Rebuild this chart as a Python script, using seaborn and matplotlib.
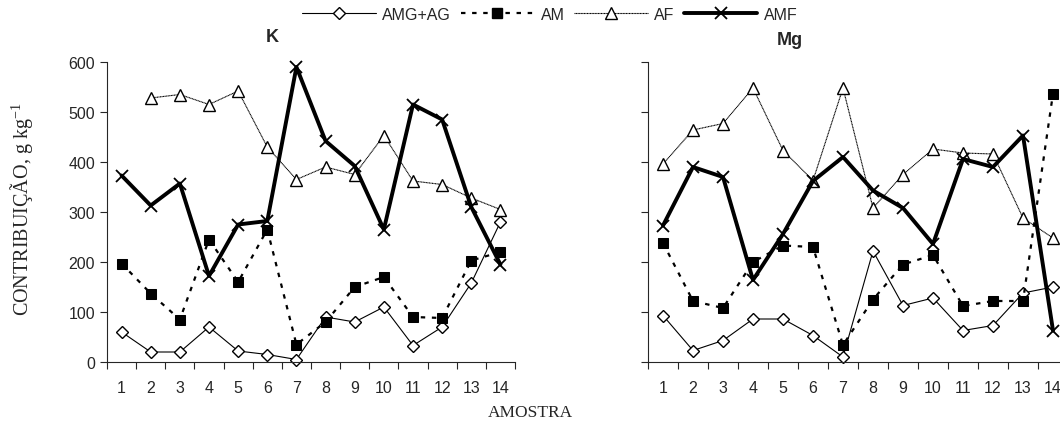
import numpy as np
import pandas as pd
import seaborn as sns
import matplotlib.pyplot as plt
from matplotlib.lines import Line2D

sns.set_style("ticks")
plt.rcParams['font.family'] = ['Liberation Sans', 'DejaVu Sans']
plt.rcParams['mathtext.fontset'] = 'custom'
plt.rcParams['mathtext.rm'] = 'Liberation Serif'
plt.rcParams['mathtext.it'] = 'Liberation Serif:italic'

# dados
amostra = list(range(1, 15))

k_amg_ag = [60, 20, 20, 70, 22, 15, 5, 90, 80, 110, 33, 70, 158, 280]
k_am = [197, 137, 85, 245, 160, 265, 35, 80, 150, 170, 90, 88, 203, 220]
k_af = [np.nan, 528, 535, 515, 542, 430, 365, 390, 375, 453, 362, 355, 328, 305]
k_amf = [373, 313, 357, 172, 275, 282, 590, 442, 392, 265, 515, 485, 310, 195]

mg_amg_ag = [93, 23, 43, 86, 86, 53, 10, 222, 113, 128, 63, 73, 138, 150]
mg_am = [238, 122, 108, 200, 233, 230, 34, 125, 195, 214, 112, 122, 122, 537]
mg_af = [396, 464, 477, 548, 423, 363, 548, 308, 375, 426, 418, 416, 288, 248]
mg_amf = [273, 390, 370, 164, 256, 362, 410, 343, 308, 236, 406, 390, 453, 63]

series = ['AMG+AG', 'AM', 'AF', 'AMF']
estilos = {
    'AMG+AG': dict(marker='D', markersize=6.5, markerfacecolor='white', markeredgecolor='black',
                   markeredgewidth=1.0, linewidth=0.8, linestyle='-'),
    'AM': dict(marker='s', markersize=7, markerfacecolor='black', markeredgecolor='black',
               linewidth=1.6, linestyle=(0, (2, 3))),
    'AF': dict(marker='^', markersize=9, markerfacecolor='white', markeredgecolor='black',
               markeredgewidth=1.0, linewidth=0.8, linestyle=(0, (1, 0.4))),
    'AMF': dict(marker='x', markersize=9, markeredgecolor='black', markeredgewidth=1.3,
                linewidth=2.8, linestyle='-'),
}

fig = plt.figure(figsize=(10.6, 4.27), dpi=100)
ax1 = fig.add_axes([107 / 1060, 64 / 427, 408 / 1060, 300 / 427])
ax2 = fig.add_axes([648 / 1060, 64 / 427, 420 / 1060, 300 / 427])

paineis = [
    (ax1, 'K', [k_amg_ag, k_am, k_af, k_amf]),
    (ax2, 'Mg', [mg_amg_ag, mg_am, mg_af, mg_amf]),
]

for ax, nome, valores in paineis:
    for s, v in zip(series, valores):
        df = pd.DataFrame({'amostra': amostra, 'valor': v}).dropna()
        sns.lineplot(data=df, x='amostra', y='valor', ax=ax, color='black',
                     label=s, clip_on=False, **estilos[s])
    ax.set_xlim(0.5, 14.5)
    ax.set_ylim(0, 600)
    ax.set_xticks(amostra)
    ax.set_xticks(np.arange(0.5, 15, 1), minor=True)
    ax.tick_params(axis='x', which='major', length=0, labelsize=11.5, pad=13)
    ax.tick_params(axis='x', which='minor', length=5, width=0.8, direction='out')
    ax.set_yticks(range(0, 601, 100))
    ax.tick_params(axis='y', length=5, width=0.8, direction='out', labelsize=11.5)
    ax.set_xlabel('')
    ax.set_ylabel('')
    for sp in ['top', 'right']:
        ax.spines[sp].set_visible(False)
    for sp in ['left', 'bottom']:
        ax.spines[sp].set_linewidth(0.8)
    if ax.get_legend() is not None:
        ax.get_legend().remove()

ax2.set_yticklabels([])

ax1.text(0.404, 1.055, 'K', transform=ax1.transAxes, fontsize=13, fontweight='bold',
         ha='center', va='bottom')
ax2.text(0.338, 1.045, 'Mg', transform=ax2.transAxes, fontsize=13, fontweight='bold',
         ha='center', va='bottom')

fig.text(22 / 1060, 1 - 209 / 427, 'CONTRIBUIÇÃO, g kg$^{-1}$', rotation=90,
         family=['Liberation Serif', 'DejaVu Serif'], fontsize=14.5, ha='center', va='center')
fig.text(530 / 1060, 1 - 413 / 427, 'AMOSTRA', family=['Liberation Serif', 'DejaVu Serif'],
         fontsize=12.5, ha='center', va='center')

handles = [Line2D([], [], color='black', **estilos[s]) for s in series]
fig.legend(handles, series, loc='center', bbox_to_anchor=(550 / 1060, 1 - 15 / 427), ncol=4,
           frameon=False, fontsize=11.5, handlelength=4.6, columnspacing=0.6, handletextpad=0.4,
           borderaxespad=0)

fig.savefig('out.png', dpi=100)
